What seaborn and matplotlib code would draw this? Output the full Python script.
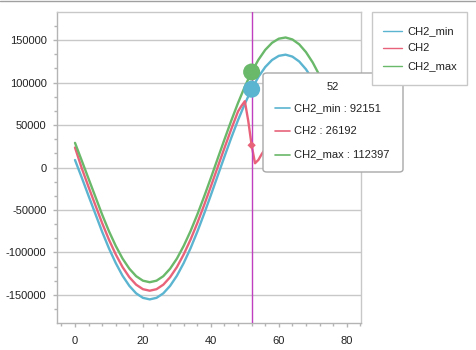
import numpy as np
import pandas as pd
import matplotlib
matplotlib.use("Agg")
import matplotlib.pyplot as plt
import seaborn as sns
from matplotlib.patches import FancyBboxPatch, Rectangle
from matplotlib.lines import Line2D
from matplotlib.ticker import MultipleLocator

# ---- data ----
x_env = [0, 2, 4, 6, 8, 10, 12, 14, 16, 18, 20, 22, 24, 26, 28, 30, 32, 34, 36, 38,
         40, 42, 44, 46, 48, 50, 52, 54, 56, 58, 60, 62, 64, 66, 68, 70, 72, 74, 76]
ch2_min = [8800, -12000, -33500, -54600, -75700, -95200, -112500, -127400, -139300, -148100,
           -153400, -155200, -153400, -148100, -139300, -127400, -112500, -95200, -75700, -54600,
           -32500, -9800, 12800, 34900, 55800, 75000, 92151, 106600, 118200, 126500,
           131400, 132800, 130500, 124800, 115600, 103300, 88100, 70400, 50800]
ch2_max = [29000, 8000, -13300, -34400, -55500, -75000, -92300, -107200, -119100, -127900,
           -133200, -135000, -133200, -127900, -119100, -107200, -92300, -75000, -55500, -34400,
           -12300, 10400, 33000, 55100, 76000, 95200, 112397, 126800, 138400, 146700,
           151600, 153000, 150700, 145000, 135800, 123500, 108300, 90600, 71000]
x_ch2 = [0, 2, 4, 6, 8, 10, 12, 14, 16, 18, 20, 22, 24, 26, 28, 30, 32, 34, 36, 38,
         40, 42, 44, 46, 48, 49, 50, 51, 52, 53, 54, 55, 56]
ch2 = [23500, -1000, -23000, -44400, -65500, -85000, -102300, -117200, -129100, -137900,
       -143200, -145000, -143200, -137900, -129100, -117200, -102300, -85000, -65500, -44400,
       -22300, 400, 23000, 45100, 66000, 72500, 78000, 55000, 26192, 5000, 9000, 16000, 22000]
cursor_x = 52
series_names = ["CH2_min", "CH2", "CH2_max"]
colors = {"CH2_min": "#5bb4d0", "CH2": "#e8637a", "CH2_max": "#6ab86a"}

df = pd.concat([
    pd.DataFrame({"x": x_env, "y": ch2_min, "series": "CH2_min"}),
    pd.DataFrame({"x": x_ch2, "y": ch2, "series": "CH2"}),
    pd.DataFrame({"x": x_env, "y": ch2_max, "series": "CH2_max"}),
])

sns.set_style("white")
plt.rcParams["font.family"] = ["Liberation Sans", "DejaVu Sans"]

W, H = 477, 350
fig = plt.figure(figsize=(W / 100, H / 100), dpi=100)
L, R, T, B = 57, 361, 12, 323
ax = fig.add_axes([L / W, 1 - B / H, (R - L) / W, (B - T) / H])

def fx(px):
    return px / W

def fy(py):
    return 1 - py / H

sns.lineplot(data=df, x="x", y="y", hue="series", hue_order=series_names,
             palette=colors, linewidth=1.7, ax=ax, legend=False, sort=False,
             estimator=None, zorder=3)

ax.set_xlim(-5.3, 84.2)
ax.set_ylim(-183000, 183000)
ax.set_xlabel("")
ax.set_ylabel("")

ax.xaxis.set_major_locator(MultipleLocator(20))
ax.xaxis.set_minor_locator(MultipleLocator(4))
ax.yaxis.set_major_locator(MultipleLocator(50000))
ax.yaxis.set_minor_locator(MultipleLocator(50000 / 3))
ax.yaxis.set_major_formatter(matplotlib.ticker.FuncFormatter(lambda v, p: f"{int(round(v))}"))

ax.grid(True, axis="y", which="major", color="#c8c8c8", linewidth=1.0, zorder=0)
ax.set_axisbelow(True)

for s in ["top", "right"]:
    ax.spines[s].set_color("#c8c8c8")
    ax.spines[s].set_linewidth(1.0)
for s in ["left", "bottom"]:
    ax.spines[s].set_color("#b4b4b4")
    ax.spines[s].set_linewidth(1.0)

ax.tick_params(axis="both", which="major", length=3, width=1, color="#b4b4b4",
               labelsize=8, labelcolor="#222222", left=True, bottom=True)
ax.tick_params(axis="both", which="minor", length=2, width=1, color="#b4b4b4",
               left=True, bottom=True)
ax.tick_params(axis="x", which="major", pad=6)
ax.tick_params(axis="y", which="major", pad=4.5)

# cursor line
ax.axvline(cursor_x, color="#c03fc0", linewidth=1.0, zorder=4)

# markers at cursor
i_env = x_env.index(cursor_x)
i_ch2 = x_ch2.index(cursor_x)
mk = pd.DataFrame({"x": [cursor_x, cursor_x], "y": [ch2_max[i_env], ch2_min[i_env]],
                   "series": ["CH2_max", "CH2_min"]})
sns.scatterplot(data=mk, x="x", y="y", hue="series", palette=colors, s=150,
                edgecolor="none", ax=ax, legend=False, zorder=5)
sns.scatterplot(x=[cursor_x], y=[ch2[i_ch2]], color=colors["CH2"], marker="D", s=18,
                edgecolor="none", ax=ax, legend=False, zorder=5)
ax.set_xlabel("")
ax.set_ylabel("")

# tooltip
tip = FancyBboxPatch((fx(263), fy(172)), fx(403) - fx(263), fy(73) - fy(172),
                     boxstyle="round,pad=0,rounding_size=0.008",
                     transform=fig.transFigure, facecolor="white",
                     edgecolor="#a8a8a8", linewidth=1.0, zorder=10)
fig.add_artist(tip)
fig.text(fx(333), fy(87), str(cursor_x), ha="center", va="center", fontsize=8,
         color="#222222", zorder=11)
tip_vals = [ch2_min[i_env], ch2[i_ch2], ch2_max[i_env]]
for k, (name, val) in enumerate(zip(series_names, tip_vals)):
    yy = fy(108 + k * 23.3)
    fig.add_artist(Line2D([fx(275), fx(290)], [yy, yy], transform=fig.transFigure,
                          color=colors[name], linewidth=1.2, zorder=11))
    fig.text(fx(294), yy, f"{name} : {val}", ha="left", va="center", fontsize=8,
             color="#222222", zorder=11)

# legend box
leg = Rectangle((fx(372), fy(85)), fx(467) - fx(372), fy(12) - fy(85),
                transform=fig.transFigure, facecolor="white", edgecolor="#c8c8c8",
                linewidth=1.0, zorder=10)
fig.add_artist(leg)
for k, name in enumerate(series_names):
    yy = fy(30.7 + k * 17.7)
    fig.add_artist(Line2D([fx(383), fx(402)], [yy, yy], transform=fig.transFigure,
                          color=colors[name], linewidth=1.0, zorder=11))
    fig.text(fx(407), yy, name, ha="left", va="center", fontsize=8,
             color="#222222", zorder=11)

# top frame line of the figure
fig.add_artist(Line2D([0, 1], [fy(0.5), fy(0.5)], transform=fig.transFigure,
                      color="#a0a0a0", linewidth=1.0))

fig.savefig("out.png", dpi=100)
